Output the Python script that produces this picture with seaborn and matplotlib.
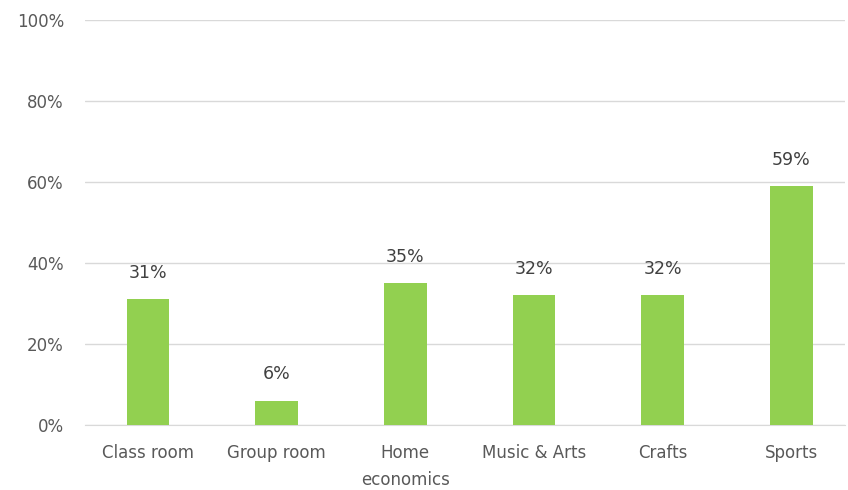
import matplotlib
matplotlib.use("Agg")
import matplotlib.pyplot as plt
import seaborn as sns
import pandas as pd

# values
categories = ["Class room", "Group room", "Home\neconomics", "Music & Arts", "Crafts", "Sports"]
shares = [31, 6, 35, 32, 32, 59]
y_ticks = [0, 20, 40, 60, 80, 100]

df = pd.DataFrame({"category": categories, "share": shares})

sns.set_style("white")
plt.rcParams["font.family"] = ["DejaVu Sans"]

fig = plt.figure(figsize=(8.48, 4.9), dpi=100)
ax = fig.add_axes([0.100, 0.1327, 0.897, 0.8265])

sns.barplot(data=df, x="category", y="share", color="#92D050", width=0.33,
            saturation=1, linewidth=0, ax=ax, zorder=3)

for i, v in enumerate(shares):
    ax.text(i, v + 4.3, f"{v}%", ha="center", va="bottom", fontsize=12.5, color="#404040")

ax.set_ylim(0, 100)
ax.set_xlim(-0.49, 5.42)
ax.set_yticks(y_ticks)
ax.set_yticklabels([f"{t}%" for t in y_ticks], fontsize=12, color="#595959")
ax.yaxis.grid(True, color="#D9D9D9", linewidth=1, zorder=0)
ax.tick_params(axis="x", labelsize=12, colors="#595959", length=0, pad=14)
ax.tick_params(axis="y", length=0, pad=15)
for lbl in ax.get_xticklabels():
    lbl.set_linespacing(1.6)
ax.set_xlabel("")
ax.set_ylabel("")
for s in ["top", "right", "left"]:
    ax.spines[s].set_visible(False)
ax.spines["bottom"].set_color("#D9D9D9")

fig.savefig("out.png", dpi=100)
